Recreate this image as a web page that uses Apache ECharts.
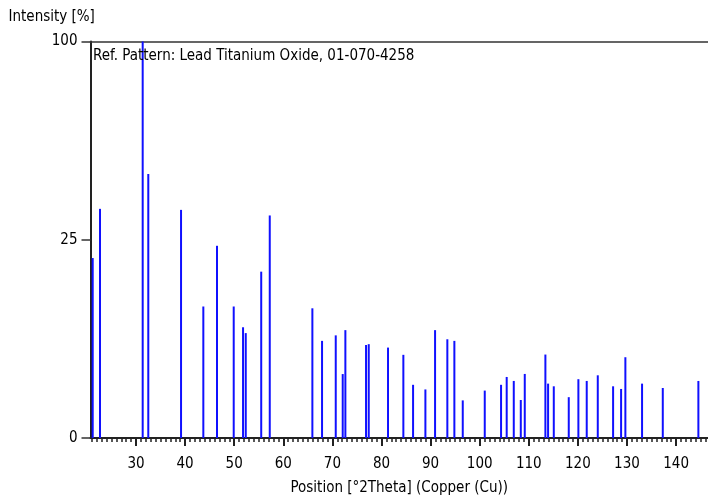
<!DOCTYPE html>
<html>
<head>
<meta charset="utf-8">
<script src="https://cdn.jsdelivr.net/npm/echarts@6/dist/echarts.min.js"></script>
<style>
  html, body { margin: 0; padding: 0; background: #fff; }
  #xrd-chart { width: 708px; height: 497px; }
</style>
</head>
<body>
<div id="xrd-chart"></div>
<script>
  // peak positions [°2Theta] and relative intensities [%]
  var positions = [21.18, 22.67, 31.36, 32.5, 39.17, 43.71, 46.5, 49.9, 51.8, 52.35, 55.5, 57.24,
    65.92, 67.89, 70.68, 72.1, 72.64, 76.85, 77.4, 81.33, 84.45, 86.43, 88.94, 90.91, 93.41,
    94.84, 96.55, 101.03, 104.35, 105.5, 106.94, 108.37, 109.18, 113.38, 113.93, 115.09,
    118.14, 120.1, 121.8, 124.05, 127.17, 128.8, 129.67, 133.07, 137.29, 144.54]
  var intensities = [20.6, 33.4, 100, 44.3, 33.1, 11.0, 23.5, 11.0, 7.8, 7.0, 17.6, 31.5,
    10.7, 6.0, 6.7, 2.6, 7.4, 5.5, 5.6, 5.2, 4.4, 1.8, 1.5, 7.4, 6.2,
    6.0, 0.9, 1.43, 1.8, 2.37, 2.07, 0.92, 2.61, 4.43, 1.88, 1.70,
    1.06, 2.2, 2.07, 2.5, 1.70, 1.53, 4.15, 1.88, 1.59, 2.07]
  var xTickLabels = [30, 40, 50, 60, 70, 80, 90, 100, 110, 120, 130, 140]
  var yTickLabels = [0, 25, 100]

  var font = '"Liberation Sans Narrow", "DejaVu Sans Condensed", sans-serif'
  var xMin = 20.73, xMax = 146.5

  // square-root intensity scale
  var peaks = positions.map(function (p, i) { return [p, Math.sqrt(intensities[i])] })
  var minorTicks = []
  for (var d = Math.ceil(xMin); d <= xMax; d++) minorTicks.push(d)

  var myChart = echarts.init(document.getElementById('xrd-chart'))
  myChart.setOption({
    animation: false,
    textStyle: { fontFamily: font },
    title: {
      text: 'Ref. Pattern: Lead Titanium Oxide, 01-070-4258',
      left: 93,
      top: 49,
      padding: 0,
      textStyle: { fontFamily: font, fontSize: 15, fontWeight: 'normal', color: '#000' }
    },
    grid: { left: 90.5, right: 0, top: 41.5, bottom: 59, outerBoundsMode: 'none' },
    xAxis: [
      {
        type: 'value',
        min: xMin,
        max: xMax,
        name: 'Position [°2Theta] (Copper (Cu))',
        nameLocation: 'middle',
        nameGap: 43,
        nameTextStyle: { fontFamily: font, fontSize: 15, color: '#000' },
        axisLine: { lineStyle: { color: '#222', width: 2 } },
        axisTick: { length: 8, customValues: xTickLabels, lineStyle: { color: '#222', width: 2 } },
        axisLabel: { customValues: xTickLabels, margin: 19, fontFamily: font, fontSize: 15, color: '#000' },
        splitLine: { show: false }
      },
      {
        type: 'value',
        min: xMin,
        max: xMax,
        position: 'bottom',
        axisLine: { show: false },
        axisTick: { length: 4, customValues: minorTicks, lineStyle: { color: '#222', width: 1.5 } },
        axisLabel: { show: false },
        splitLine: { show: false }
      },
      {
        type: 'value',
        min: xMin,
        max: xMax,
        position: 'top',
        axisLine: { lineStyle: { color: '#333', width: 1.5 } },
        axisTick: { show: false },
        axisLabel: { show: false },
        splitLine: { show: false }
      }
    ],
    yAxis: {
      type: 'value',
      min: 0,
      max: 10,
      name: 'Intensity [%]',
      nameLocation: 'end',
      nameGap: 24,
      nameTextStyle: { fontFamily: font, fontSize: 15, color: '#000', align: 'left', verticalAlign: 'middle', padding: [0, 0, 0, -82] },
      axisLine: { show: true, lineStyle: { color: '#222', width: 2 } },
      axisTick: {
        show: true, length: 9,
        customValues: yTickLabels.map(Math.sqrt),
        lineStyle: { color: '#333', width: 1.5 }
      },
      axisLabel: {
        customValues: yTickLabels.map(Math.sqrt),
        margin: 13,
        fontFamily: font, fontSize: 15, color: '#000',
        formatter: function (v) { return Math.round(v * v) }
      },
      splitLine: { show: false }
    },
    series: [
      {
        type: 'bar',
        xAxisIndex: 0,
        barWidth: 2,
        itemStyle: { color: '#1010ff' },
        data: peaks
      }
    ]
  })
</script>
</body>
</html>
